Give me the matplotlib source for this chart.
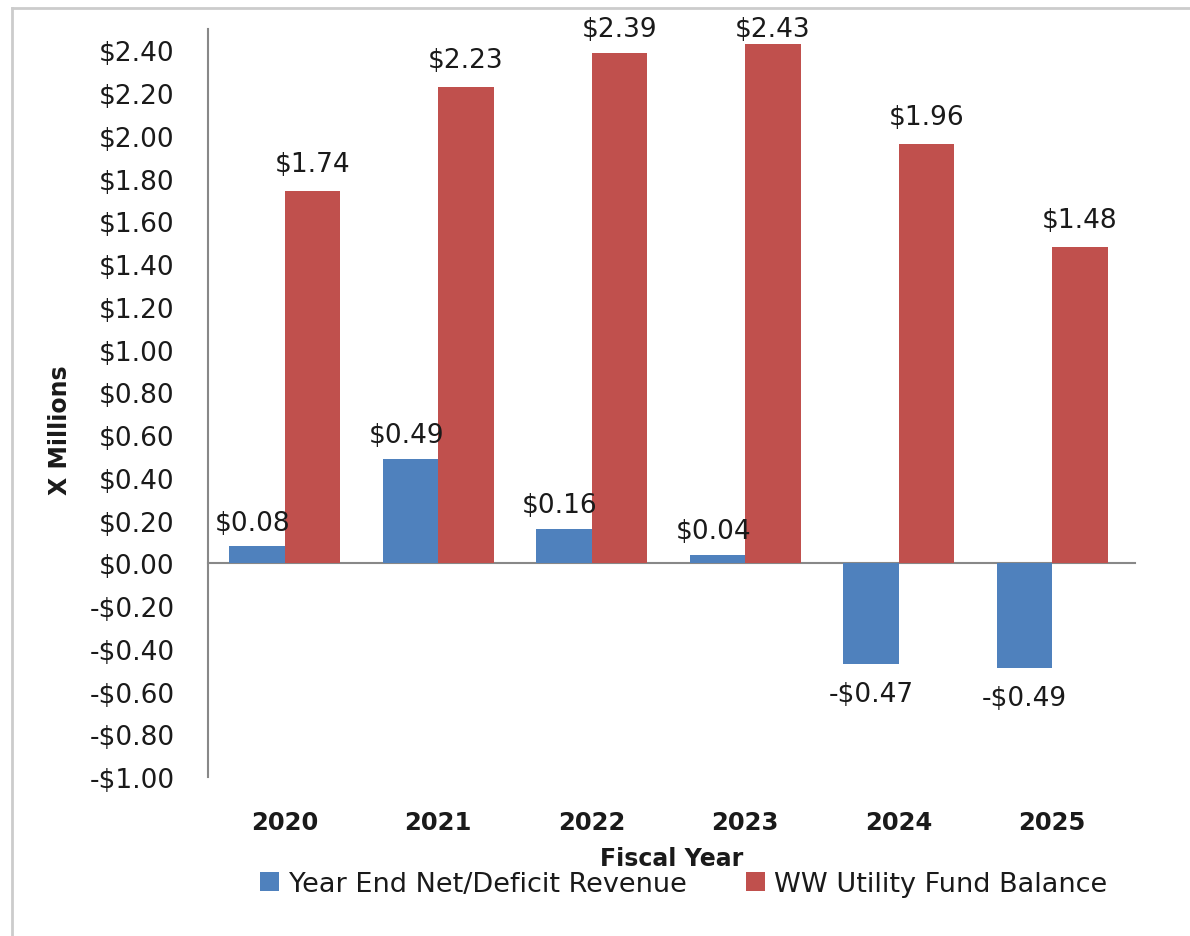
import numpy as np
import matplotlib
matplotlib.use("Agg")
import matplotlib.pyplot as plt
from matplotlib.lines import Line2D

# data (x millions)
years = ["2020", "2021", "2022", "2023", "2024", "2025"]
net_revenue = [0.08, 0.49, 0.16, 0.04, -0.47, -0.49]
fund_balance = [1.74, 2.23, 2.39, 2.43, 1.96, 1.48]
series_names = ["Year End Net/Deficit Revenue", "WW Utility Fund Balance"]
y_ticks = [-1.0, -0.8, -0.6, -0.4, -0.2, 0.0, 0.2, 0.4, 0.6, 0.8, 1.0,
           1.2, 1.4, 1.6, 1.8, 2.0, 2.2, 2.4]

blue = "#4F81BD"
red = "#C0504D"
txt = "#1a1a1a"

plt.rcParams["font.family"] = "DejaVu Sans"

fig = plt.figure(figsize=(11.9, 9.37), dpi=100)
ax = fig.add_axes([208 / 1190, 1 - 778 / 937, 921 / 1190, 748 / 937])

ymin, ymax = -1.0, 2.5
px_per_unit = 748 / (ymax - ymin)

x = np.arange(len(years))
w = 0.36
b1 = ax.bar(x - w / 2, net_revenue, w, color=blue, label=series_names[0], zorder=2)
b2 = ax.bar(x + w / 2, fund_balance, w, color=red, label=series_names[1], zorder=2)

def money(v):
    return ("-$%.2f" % -v) if v < 0 else ("$%.2f" % v)

for xi, v in zip(x, net_revenue):
    if v >= 0:
        ax.annotate(money(v), (xi - w / 2, v), xytext=(-3, 17), textcoords="offset points",
                    ha="center", va="center", fontsize=19, color=txt, zorder=3)
    else:
        ax.annotate(money(v), (xi - w / 2, v), xytext=(0, -21.5), textcoords="offset points",
                    ha="center", va="center", fontsize=19, color=txt, zorder=3)

# red labels sit ~27px above the bar, but stay inside the plot area
for xi, v in zip(x, fund_balance):
    ly = min(v + 27 / px_per_unit, ymax)
    ax.text(xi + w / 2, ly, money(v), ha="center", va="center", fontsize=19,
            color=txt, zorder=3)

ax.set_xlim(-0.5, 5.5)
ax.set_ylim(ymin, ymax)
ax.set_yticks(y_ticks)
ax.set_yticklabels([money(t) if abs(t) > 1e-9 else "$0.00" for t in y_ticks])
ax.set_xticks(x)
ax.set_xticklabels(years, fontweight="bold")
ax.tick_params(axis="y", length=0, pad=24, labelsize=19, labelcolor=txt)
ax.tick_params(axis="x", length=0, pad=23.5, labelsize=17.5, labelcolor=txt)

for s in ["top", "right", "bottom"]:
    ax.spines[s].set_visible(False)
ax.spines["left"].set_color("#888888")
ax.spines["left"].set_linewidth(1.5)
ax.axhline(0, color="#888888", linewidth=1.5, zorder=1, xmax=1.006, clip_on=False)

ax.set_ylabel("X Millions", fontsize=17, fontweight="bold", color=txt)
ax.yaxis.set_label_coords((72 - 208) / 921, (778 - 430) / 748)

fig.text(672 / 1190, 1 - 859 / 937, "Fiscal Year", ha="center", va="center",
         fontsize=17, fontweight="bold", color=txt)

fig.legend(handles=[b1, b2], loc="center", bbox_to_anchor=(684 / 1190, 1 - 885 / 937),
           ncol=2, frameon=False, fontsize=19.5, handlelength=0.68, handleheight=0.68,
           handletextpad=0.36, columnspacing=2.2, labelcolor=txt)

# outer chart border (left and top edges visible)
fig.add_artist(Line2D([12 / 1190, 12 / 1190], [0, 1 - 9 / 937], transform=fig.transFigure,
                      color="#cccccc", linewidth=2))
fig.add_artist(Line2D([12 / 1190, 1], [1 - 9 / 937, 1 - 9 / 937], transform=fig.transFigure,
                      color="#cccccc", linewidth=2))

fig.savefig("out.png", dpi=100)
